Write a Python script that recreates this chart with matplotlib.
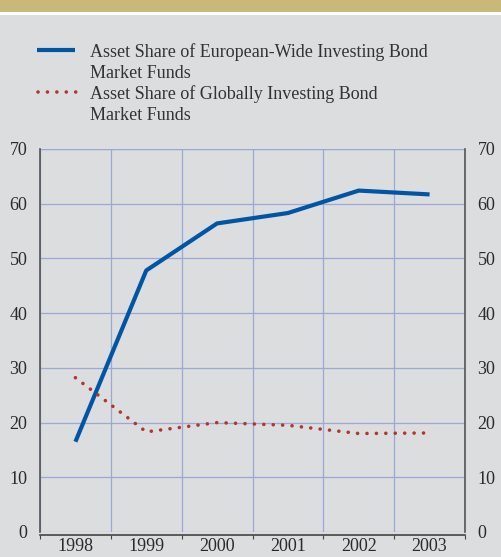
import matplotlib.pyplot as plt
from matplotlib.lines import Line2D
from matplotlib.patches import Rectangle

years = ['1998', '1999', '2000', '2001', '2002', '2003']
europe_share = [16.5, 47.8, 56.4, 58.3, 62.4, 61.7]
global_share = [28.2, 18.3, 20.0, 19.5, 18.0, 18.1]
y_ticks = [0, 10, 20, 30, 40, 50, 60, 70]
legend_lines = [['Asset Share of European-Wide Investing Bond', 'Market Funds'],
                ['Asset Share of Globally Investing Bond', 'Market Funds']]

bg = '#dcdddf'
blue = '#0055a4'
red = '#b0362e'
grid_col = '#9aa8d6'
txt = '#2a2a2a'

plt.rcParams['font.family'] = ['Liberation Serif', 'DejaVu Serif']

W, H = 501, 557
fig = plt.figure(figsize=(W / 100, H / 100), dpi=100, facecolor=bg)
# tan band across the top
fig.patches.append(Rectangle((0, 1 - 12 / H), 1, 12 / H, transform=fig.transFigure,
                             facecolor='#c8b97b', edgecolor='none'))
fig.patches.append(Rectangle((0, 1 - 15 / H), 1, 3 / H, transform=fig.transFigure,
                             facecolor='white', edgecolor='none'))

ax = fig.add_axes([40 / W, 25 / H, 425 / W, 383 / H])
ax.set_facecolor(bg)

x = [i + 0.5 for i in range(len(years))]
dots = (0, (0.01, 2.6))
ax.plot(x, europe_share, color=blue, lw=3.0, solid_capstyle='butt', zorder=3)
ax.plot(x, global_share, color=red, lw=2.6, linestyle=dots,
        dash_capstyle='round', zorder=3)

ax.set_xlim(0, len(years))
ax.set_ylim(0, 70)
ax.set_xticks(range(len(years) + 1))
ax.set_xticklabels([])
ax.set_xticks(x, minor=True)
ax.set_xticklabels(years, minor=True)
ax.tick_params(axis='x', which='minor', length=0, pad=1.5, labelsize=13, labelcolor=txt)
ax.tick_params(axis='x', which='major', direction='out', length=3, color='#444444')
ax.set_yticks(y_ticks)
ax.tick_params(axis='y', length=0, labelsize=13, labelcolor=txt, labelright=True)
for t in ax.yaxis.get_major_ticks():
    t.set_pad(9)

ax.grid(True, which='major', color=grid_col, lw=0.9)
ax.axhline(70, color=grid_col, lw=0.9, zorder=1)
ax.spines['top'].set_visible(False)
ax.spines['left'].set_color('#555555')
ax.spines['right'].set_color('#555555')
ax.spines['bottom'].set_color('#444444')
ax.spines['bottom'].set_position(('outward', 2.5))
for s in ['left', 'right', 'bottom']:
    ax.spines[s].set_linewidth(1.2)

# legend drawn by hand
fig.add_artist(Line2D([37 / W, 75 / W], [1 - 50 / H] * 2, color=blue, lw=3.0,
                      solid_capstyle='butt', transform=fig.transFigure))
fig.add_artist(Line2D([38 / W, 76 / W], [1 - 92 / H] * 2, color=red, lw=2.6,
                      linestyle=dots, dash_capstyle='round',
                      transform=fig.transFigure))
row_y = [[50, 71], [92, 113]]
for lines, ys in zip(legend_lines, row_y):
    for s, yy in zip(lines, ys):
        fig.text(90 / W, 1 - yy / H, s, fontsize=13, color='#333333',
                 va='center_baseline', ha='left')

fig.savefig('out.png', dpi=100, facecolor=bg)
